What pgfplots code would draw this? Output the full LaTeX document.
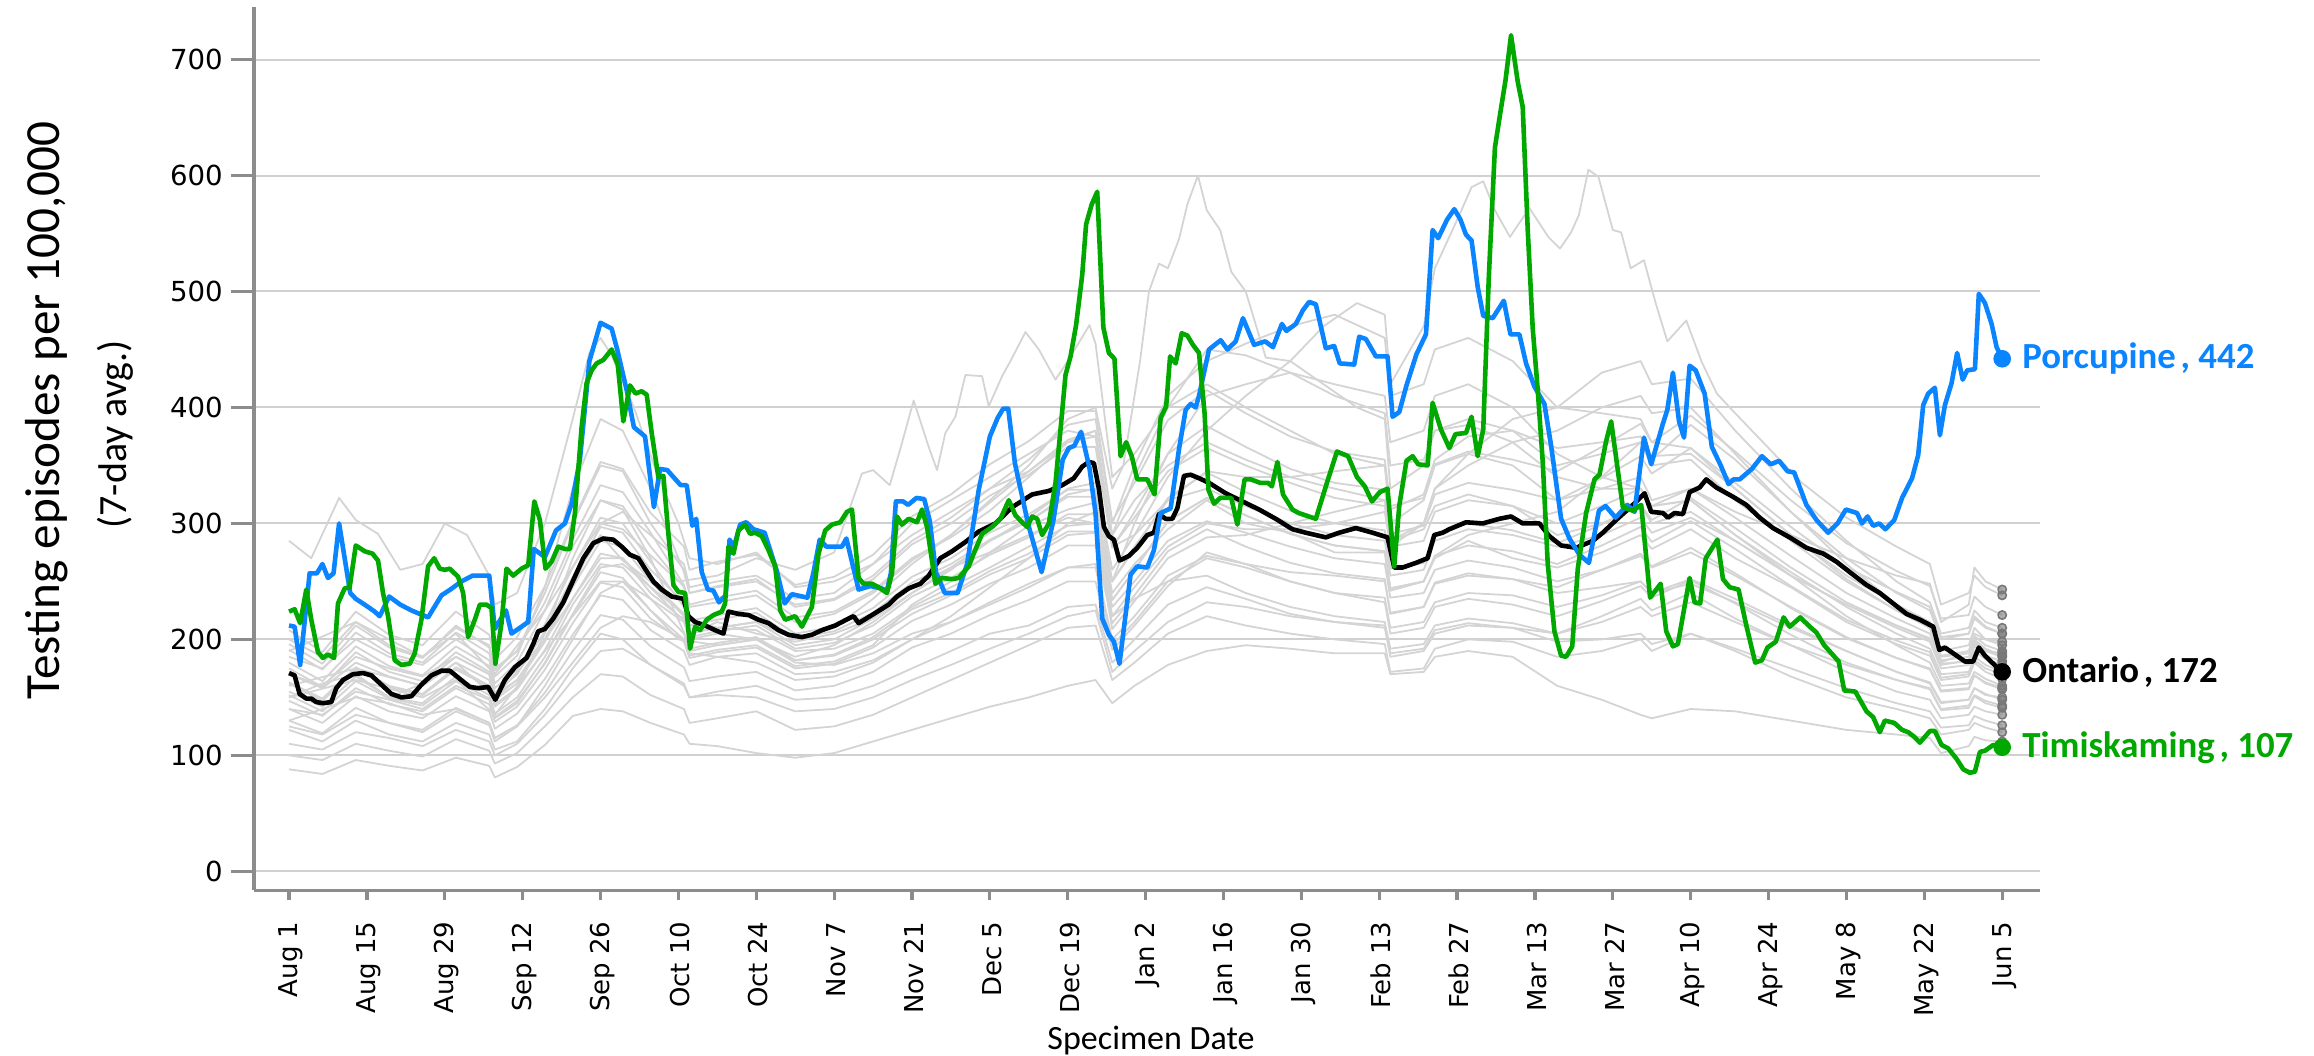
\documentclass[border=0pt]{standalone}
\usepackage{fontspec}
\setmainfont{Carlito}
\newfontfamily\tickfont{DejaVu Sans}
\usepackage{pgfplots}
\usepackage{pgfplotstable}
\pgfplotsset{compat=1.18}
\definecolor{porc}{RGB}{10,132,255}
\definecolor{timi}{RGB}{0,168,0}
\definecolor{phu}{RGB}{212,212,212}
\definecolor{axisgray}{RGB}{140,140,140}
\definecolor{gridgray}{RGB}{208,208,208}
\definecolor{dotgray}{RGB}{120,120,120}

\pgfplotstableread{
d g1 g2 g3 g4 g5 g6 g7 g8 g9 g10 g11 g12 g13 g14 h1 h2 h3 h4 k1 k2 k3 k4 k5 k6
0 88 100 122 130 140 147 152 162 163 175 180 191 196 208 200 155 170 130 125 150 185 110 170 140
6 84 96 112 119 128 134 138 147 149 159 164 174 179 189 185 142 160 140 118 162 175 105 158 135
12 96 110 130 141 151 158 164 174 176 189 194 206 212 224 215 168 185 150 135 170 200 120 180 155
18 91 104 118 128 138 144 149 159 160 172 177 188 193 204 195 150 175 145 128 150 185 115 168 148
24 87 99 112 122 132 138 143 152 153 164 169 180 184 195 185 145 168 135 120 162 178 108 160 140
30 98 114 128 141 151 158 164 174 176 189 194 206 212 224 210 168 185 140 138 185 200 122 180 160
36 91 104 118 128 138 144 149 159 160 172 177 188 193 204 195 152 170 128 126 170 182 112 165 148
37 81 93 105 115 123 129 133 142 144 154 158 168 173 183 175 136 150 115 112 152 162 100 148 132
41 90 102 112 126 136 142 147 157 158 170 174 186 190 202 190 150 165 125 125 165 180 110 162 145
46 109 125 140 154 166 174 179 191 205 207 213 245 232 246 240 185 200 150 160 200 225 135 198 180
51 134 150 175 190 204 214 221 235 270 254 262 330 286 302 300 230 245 180 200 250 280 165 245 222
56 140 170 205 221 238 249 258 274 320 297 305 390 333 353 350 265 300 210 240 290 320 190 285 262
60 138 168 200 217 234 245 253 270 312 292 300 380 327 347 345 262 310 220 250 268 315 192 280 265
65 128 152 178 194 208 218 225 240 270 260 267 330 292 309 300 235 290 215 235 250 280 178 250 245
71 118 140 162 176 190 198 200 217 206 232 228 258 247 280 260 205 265 200 215 222 245 160 220 222
72 110 128 150 164 178 184 186 202 192 216 212 240 230 260 240 190 245 188 200 205 228 150 205 206
77 108 132 155 168 185 189 191 207 197 221 217 246 236 267 245 195 250 185 205 215 232 152 210 210
84 102 138 160 172 188 193 195 212 202 227 223 252 242 273 250 200 255 180 200 205 238 150 215 208
91 98 122 148 156 170 175 177 192 182 205 201 228 219 247 230 182 235 165 180 198 215 138 195 190
98 102 125 150 160 172 179 181 197 187 211 207 234 224 254 235 186 240 168 178 205 222 140 200 192
105 112 135 160 172 182 193 195 212 202 227 223 252 242 273 255 200 265 180 188 218 240 150 218 205
112 122 150 175 193 200 216 230 237 226 254 249 282 270 306 285 222 300 200 205 240 268 165 245 228
119 132 165 190 205 220 230 250 253 240 270 265 300 288 325 305 238 320 215 215 262 290 178 262 245
126 142 180 205 221 245 248 275 273 259 292 286 324 311 351 330 256 340 232 230 275 318 192 285 262
133 150 195 212 234 270 262 290 288 274 308 302 342 340 371 355 270 360 248 245 298 345 205 302 280
140 160 210 228 250 300 281 305 308 293 329 323 366 370 397 385 290 380 262 262 312 372 220 325 298
145 165 212 230 250 310 281 300 308 293 329 323 366 380 397 390 292 375 265 262 318 380 225 330 300
148 145 165 180 191 250 214 220 234 209 250 234 279 290 302 300 220 280 200 195 240 280 172 250 228
152 160 180 200 212 300 238 235 260 233 278 260 310 340 335 350 245 290 220 215 265 305 190 280 250
158 178 205 230 246 360 276 250 302 270 322 302 360 400 389 410 280 320 255 250 295 345 215 320 285
165 190 220 245 275 410 295 255 322 288 344 322 384 450 415 440 300 330 272 270 320 365 232 345 302
172 195 212 235 265 420 280 240 307 290 327 307 366 445 395 455 295 315 265 262 300 350 228 340 292
180 192 205 222 250 430 266 228 291 300 311 291 347 430 375 470 295 300 258 250 292 335 220 340 280
188 188 200 215 240 420 257 220 281 310 300 281 335 410 362 480 300 290 255 240 275 322 215 345 270
197 188 196 210 232 410 252 215 276 320 294 276 329 395 355 460 310 285 250 236 275 315 212 350 265
198 170 172 185 205 370 223 192 244 285 261 244 291 350 315 410 280 255 222 210 242 280 188 312 236
204 172 175 190 210 380 228 196 250 300 266 250 298 355 322 420 300 260 228 215 250 285 192 325 240
206 185 192 205 228 410 249 212 272 330 291 272 325 380 351 450 330 285 248 232 270 310 208 355 260
212 190 200 212 235 420 257 218 281 350 300 290 335 385 362 460 360 295 255 240 285 320 214 375 268
220 185 198 210 230 400 252 214 276 370 294 300 329 370 355 440 390 290 252 238 270 315 210 380 262
228 160 185 205 220 360 245 205 265 380 283 310 320 340 345 400 400 280 240 228 262 300 198 365 250
236 148 190 220 233 340 260 215 281 400 299 340 339 330 366 395 430 290 245 238 275 315 200 370 260
243 135 200 235 246 330 274 228 297 410 316 370 358 330 386 390 440 305 250 250 290 330 205 375 272
245 132 190 225 236 315 263 220 284 395 303 355 343 315 370 370 420 292 240 240 278 315 196 358 262
252 140 205 240 251 320 279 232 302 400 322 385 365 320 393 365 425 305 248 252 295 330 205 360 275
260 138 190 218 231 290 257 215 278 360 296 355 335 290 362 330 380 285 232 235 270 305 192 330 255
270 130 168 195 204 255 227 195 246 310 262 310 297 258 320 290 330 255 210 212 245 272 175 290 228
280 122 150 172 180 220 201 178 217 270 232 265 262 228 283 255 285 230 190 190 215 240 158 252 202
289 118 140 155 165 195 184 165 199 240 212 230 241 205 259 230 250 210 172 172 196 218 145 225 184
295 115 132 148 157 180 174 158 189 225 201 210 228 192 246 215 232 198 162 163 186 205 138 210 175
297 102 118 132 139 160 155 140 167 200 179 185 202 170 218 190 205 175 145 146 165 182 124 186 156
302 108 122 135 141 162 157 143 170 205 181 188 205 172 221 195 210 178 148 148 168 185 126 190 158
303 116 128 142 151 172 169 152 182 218 194 200 220 185 237 210 225 190 158 158 180 198 134 203 169
305 113 124 138 145 166 162 147 175 210 186 192 211 178 228 200 215 183 152 153 172 190 130 195 163
308 112 120 135 141 160 157 143 170 205 181 186 205 172 221 198 210 178 150 148 166 185 126 190 158
}\grays

\begin{document}
\begin{tikzpicture}
\useasboundingbox (-63.5pt,-41.25pt) rectangle (515pt,222.6pt);
\begin{axis}[
  at={(0pt,0pt)}, anchor=south west,
  scale only axis, width=446.5pt, height=220.75pt,
  xmin=-6.3, xmax=314.8, ymin=-16.4, ymax=745,
  axis x line=bottom, axis y line=left,
  axis line style={draw=axisgray, line width=0.9pt, -},
  tick align=outside,
  x tick style={draw=axisgray, line width=0.8pt, /pgfplots/major tick length=2.5pt},
  y tick style={draw=axisgray, line width=0.8pt, /pgfplots/major tick length=5.75pt},
  xtick={0,14,...,308},
  xticklabels={Aug 1,Aug 15,Aug 29,Sep 12,Sep 26,Oct 10,Oct 24,Nov 7,Nov 21,Dec 5,Dec 19,Jan 2,Jan 16,Jan 30,Feb 13,Feb 27,Mar 13,Mar 27,Apr 10,Apr 24,May 8,May 22,Jun 5},
  xticklabel style={rotate=90, anchor=east, font=\tickfont\fontsize{6.5}{8}\selectfont, yshift=-0.5pt},
  ytick={0,100,...,700},
  yticklabel style={font=\tickfont\fontsize{6.9}{8}\selectfont},
  /pgf/number format/assume math mode=true,
  ymajorgrids, grid style={draw=gridgray, line width=0.5pt},
  clip=false,
  every axis plot/.append style={line join=round},
]
\pgfplotsinvokeforeach{g1,g2,g3,g4,g5,g6,g7,g8,g9,g10,g11,g12,g13,g14,h1,h2,h3,h4,k1,k2,k3,k4,k5,k6}{
  \addplot[phu, line width=0.45pt] table[x=d, y=#1]{\grays};
}
% special gray lines
\addplot[phu, line width=0.45pt] coordinates {(0,160) (12,175) (24,160) (30,180) (37,150) (46,200) (56,270) (60,270) (70,220) (77,210) (84,215) (91,200) (98,210) (105,235) (112,265) (119,290) (126,320) (133,350) (140,390) (145,400) (148,330) (150,350) (153,440) (154.6,500) (156.4,524) (158,520) (160,545) (161.5,575) (163.4,600) (165,570) (167.4,553) (169.4,517) (172,500) (175.6,443) (180,440) (186,420) (192,400) (197,390) (198,330) (204,350) (206,380) (212,390) (220,380) (228,350) (236,360) (243,370) (245,350) (252,355) (260,320) (270,285) (280,250) (289,225) (295,210) (297,180) (302,190) (303,205) (305,200) (308,195)};
\addplot[phu, line width=0.45pt] coordinates {(0,150) (12,165) (24,150) (30,165) (37,135) (46,190) (56,250) (60,250) (70,200) (77,195) (84,200) (91,185) (98,195) (105,215) (112,240) (119,260) (126,285) (133,305) (140,330) (145,335) (148,260) (152,290) (158,340) (165,380) (172,410) (180,440) (186,470) (192,490) (197,480) (198,420) (204,470) (206,520) (210.6,568) (212.6,590) (214.7,595) (216.8,570) (219.5,547) (223,572) (226.4,547) (228.5,537) (230.5,551) (231.9,566) (233.6,605) (235.4,599) (238,553) (239.5,551) (241.2,520) (243.6,527) (245.7,490) (247.8,457) (251.2,475) (254,439) (256.7,412) (260,395) (266,365) (272,335) (280,305) (289,280) (295,265) (297,230) (302,240) (303,255) (305,245) (308,238)};
\addplot[phu, line width=0.45pt] coordinates {(0,285) (4,270) (9,322) (12,303) (16,291) (20,260) (24,265) (28,300) (32,290) (36,255) (37,230) (41,240) (46,300) (51,390) (54,447) (56,460) (58,445) (62,400) (66,345) (70,300) (72,270) (77,265) (84,275) (91,245) (98,250) (105,265) (112,290) (119,310) (126,330) (133,345) (140,370) (145,375) (148,290) (152,320) (158,350) (165,370) (172,355) (180,340) (188,330) (197,320) (198,285) (204,295) (206,315) (212,325) (220,315) (228,290) (236,300) (243,315) (245,300) (252,310) (260,285) (270,255) (280,230) (289,212) (295,200) (297,178) (302,182) (303,196) (305,190) (308,188)};
\addplot[phu, line width=0.45pt] coordinates {(0,190) (12,215) (24,185) (30,205) (37,170) (46,225) (56,300) (60,295) (70,250) (77,255) (84,270) (91,260) (98,275) (103,343) (105,346) (108,333) (110,366) (112.3,406) (115,366) (116.5,346) (118,378) (119.8,392) (121.6,428) (124.6,427) (125.8,401) (128.2,427) (129.7,440) (132.4,465) (134.8,450) (137.8,424) (140,440) (143.9,471) (145,455) (148,340) (152,360) (158,400) (165,420) (172,400) (180,380) (188,360) (197,350) (198,300) (204,320) (206,350) (212,360) (220,350) (228,320) (236,330) (243,340) (245,320) (252,330) (260,310) (270,290) (280,270) (289,255) (295,248) (297,215) (302,230) (303,262) (305,250) (308,243)};
% gray end dots
\addplot[only marks, color=dotgray, mark=*, mark size=1.05pt, mark options={draw=none, fill=dotgray, fill opacity=0.6}] coordinates {(308,112) (308,120) (308,135) (308,141) (308,160) (308,157) (308,143) (308,170) (308,205) (308,181) (308,186) (308,205) (308,172) (308,221) (308,198) (308,210) (308,178) (308,150) (308,148) (308,166) (308,185) (308,126) (308,190) (308,158) (308,195) (308,238) (308,188) (308,243)};
% Ontario
\addplot[black, line width=1.15pt] coordinates {(0,171) (1,169) (1.9,153) (3.1,149) (4,149) (4.9,146) (6.1,145) (7.6,146) (8.5,158) (9.7,165) (11.5,170) (13.3,171) (14.8,169) (16.6,161) (18.4,153) (20.2,150) (22,151) (23.8,161) (25.6,169) (27.4,173) (28.9,173) (30.7,166) (32.5,159) (34,158) (35.8,159) (37.1,148) (38.8,165) (40.6,176) (42.7,184) (43.9,196) (44.8,207) (46,209) (47.5,218) (49.3,232) (51.1,251) (52.9,270) (54.7,283) (56.5,287) (58.3,286) (59.8,280) (61.3,273) (62.8,270) (64,261) (65.5,250) (67,243) (68.8,237) (70.9,235) (71.8,220) (73,215) (74.8,212) (76.6,208) (78.1,205) (79,224) (80.8,222) (82.6,221) (84.4,217) (86.2,214) (88,208) (89.8,204) (92.2,202) (94,204) (95.8,208) (98.2,212) (100.6,218) (101.5,220) (102.4,214) (104.8,221) (107.8,230) (109.3,237) (111.4,244) (113.5,248) (115,255) (117.1,270) (119.2,276) (121.6,284) (124,293) (127,300) (130,314) (133.6,325) (136.6,328) (139,333) (141.1,339) (142.6,349) (143.8,353) (144.7,352) (145.6,330) (146.5,297) (147.4,289) (148.3,286) (149.3,268) (151,272) (152.5,279) (154.3,290) (155.5,292) (156.4,308) (157.6,304) (158.8,304) (159.7,313) (160.9,341) (162.1,342) (163.6,339) (165.4,335) (168.4,326) (171.4,319) (174.4,312) (177.4,304) (180.4,295) (182.8,292) (186.4,288) (188.8,292) (191.8,296) (194.8,292) (197.5,288) (198.7,262) (200.2,262) (202.6,266) (204.7,270) (205.9,290) (207.4,292) (208.6,295) (211.6,301) (214.6,300) (217.6,304) (219.7,306) (221.8,300) (224.8,300) (226.6,289) (228.7,281) (231.4,279) (234.4,285) (236.2,292) (238.6,303) (241.6,316) (243.7,326) (244.9,310) (247,309) (247.9,305) (249.1,309) (250.6,308) (251.8,327) (253.6,331) (254.8,338) (256.6,331) (259.6,323) (262,316) (264.4,305) (266.8,296) (269.8,288) (272.8,279) (275.8,274) (278.2,267) (280.6,258) (283.6,247) (286,240) (288.4,231) (290.8,222) (293.2,217) (295.6,211) (296.7,191) (297.7,193) (299.8,186) (301.3,181) (302.8,181) (303.8,193) (304.9,186) (306.4,179) (308,172)};
% Porcupine
\addplot[porc, line width=1.15pt] coordinates {(0,212) (1,211) (2,178) (3.7,257) (5,257) (6,265) (7,253) (8,257) (9,300) (11,240) (12,235) (13.6,230) (15.4,224) (16.3,220) (18,237) (20,230) (22,225) (25,219) (27.4,238) (29,243) (31,250) (33,255) (36,255) (37,209) (39,225) (40,205) (43,215) (44,278) (46,271) (48,294) (49.6,300) (50.8,317) (52.3,355) (54,440) (56,473) (58,468) (59,450) (60.7,415) (62,383) (64,375) (65.6,314) (66.7,347) (68,346) (70.4,333) (71.5,333) (72.5,298) (73.2,304) (74.2,258) (75.3,243) (76.3,242) (77.3,232) (78.5,238) (79.2,286) (80,280) (81.1,299) (82.2,301) (83.5,295) (85.5,292) (87.7,259) (89.1,231) (90.4,239) (93.2,236) (94.3,258) (95.4,286) (96.6,280) (99.4,280) (100.2,287) (101.2,267) (102.4,243) (104.5,246) (106.5,244) (107.5,242) (108.2,257) (109.1,319) (110.4,319) (111.3,316) (112.8,322) (114.2,321) (115.2,302) (116.3,258) (117.9,240) (120.2,240) (121.9,265) (124,329) (126,375) (127.4,391) (128.4,399) (129.3,399) (130.5,352) (132.9,299) (135.3,258) (137.4,302) (139.1,355) (140.2,365) (141.2,367) (142.4,379) (143.9,348) (145,309) (146.2,218) (147.4,204) (148.3,198) (149.3,179) (151.3,256) (152.5,263) (154.3,262) (155.5,277) (156.7,309) (158.5,313) (160,364) (161.2,398) (162.1,403) (163,400) (163.6,410) (165.4,450) (167.5,458) (168.7,450) (170.2,457) (171.5,477) (173.5,454) (175.5,457) (176.9,452) (178.5,472) (179.3,466) (181,472) (182.3,484) (183.4,491) (184.6,489) (186.4,451) (187.9,453) (188.9,438) (191.5,437) (192.4,461) (193.6,459) (195.4,444) (197.5,444) (198.4,392) (199.6,396) (200.9,419) (202.7,446) (204.4,463) (205.6,553) (206.6,546) (208.2,562) (209.5,571) (210.6,562) (211.6,549) (212.6,544) (213.7,504) (214.7,479) (216.4,477) (218.4,492) (219.6,463) (221.2,463) (222.4,438) (223.9,418) (225.7,403) (226.9,367) (228.7,304) (230.2,287) (232,273) (233.7,266) (235.5,311) (236.7,315) (238.5,305) (240.6,316) (241.9,310) (243.6,374) (244.9,351) (247,386) (247.8,398) (248.8,430) (249.9,388) (250.8,374) (251.8,436) (252.9,432) (254.5,412) (255.8,366) (257.4,350) (258.8,334) (259.7,338) (260.8,338) (263,347) (264.8,358) (266.4,351) (267.9,354) (269.4,345) (270.6,344) (272.8,316) (274.6,303) (276.7,292) (278.4,300) (279.9,312) (281.9,309) (282.8,300) (283.8,306) (284.8,298) (285.9,300) (287,295) (288.6,303) (290,322) (291.8,339) (292.9,359) (293.8,402) (294.7,412) (295.9,417) (296.8,376) (297.7,402) (298.9,421) (299.9,447) (300.9,424) (301.7,432) (303.1,433) (303.8,498) (304.9,490) (306.1,472) (307,452) (308,442)};
% Timiskaming
\addplot[timi, line width=1.15pt] coordinates {(0,224) (1,226) (2,214) (3.1,243) (4,217) (5.2,189) (6.1,184) (7,187) (8.1,184) (8.8,231) (10,244) (10.9,245) (12,281) (13.6,276) (15,274) (16,268) (16.9,240) (17.8,220) (19,182) (20.2,178) (21.7,179) (22.6,188) (23.8,217) (25,263) (26.1,270) (27.1,261) (28,260) (28.9,261) (30.4,254) (31.3,240) (32.2,202) (33.4,217) (34.3,230) (35.5,230) (36.4,227) (37.1,179) (38.2,214) (39.1,261) (40.3,255) (41.8,261) (43,264) (44.1,319) (45.1,303) (46.1,261) (47.2,267) (48.4,280) (49.6,278) (50.5,278) (51.4,309) (52.6,383) (53.5,421) (54.4,432) (55.3,438) (56.5,441) (58,450) (59.1,437) (60.1,388) (61.3,419) (62.3,412) (63.4,414) (64.3,411) (65.2,378) (66.4,340) (67.3,341) (68.2,291) (69.1,247) (70,241) (71.2,240) (72.1,192) (73,211) (73.9,208) (75.1,217) (76.3,221) (77.8,224) (78.4,231) (79,280) (79.9,274) (80.8,294) (82,299) (82.9,291) (83.8,292) (85,289) (86.2,277) (87.4,263) (88.3,225) (89.2,217) (91,220) (92.2,211) (94,228) (95.2,274) (96.4,294) (97.6,299) (99.1,301) (100.3,310) (101.2,312) (102.4,253) (103.3,248) (104.8,248) (106,245) (107.5,240) (108.4,257) (109.3,306) (110.2,299) (111.4,304) (112.9,301) (113.8,312) (114.7,297) (116.2,248) (117.4,253) (119.2,252) (120.4,253) (122.2,263) (123.1,274) (124.6,291) (126.4,297) (127.9,304) (129.4,320) (130.6,307) (131.8,301) (132.7,297) (133.6,306) (134.5,304) (135.4,290) (136.6,300) (137.8,335) (138.7,381) (139.6,428) (140.5,444) (141.5,471) (142.6,514) (143.3,558) (144.3,575) (145.3,586) (146.4,469) (147.4,447) (148.4,442) (149.5,358) (150.5,370) (151.5,358) (152.5,338) (154.3,338) (155.6,325) (156.7,391) (157.7,401) (158.4,444) (159.4,438) (160.5,464) (161.5,462) (162.5,454) (163.6,447) (164.6,395) (165.3,329) (166.3,317) (167.4,322) (169.4,322) (170.5,299) (171.8,338) (172.9,338) (174.6,335) (176,335) (176.7,332) (177.7,353) (178.7,325) (180.4,312) (181.5,309) (184.6,304) (186.6,335) (188.4,362) (190.4,358) (192,340) (193.4,332) (194.7,319) (196.1,327) (197.5,330) (198.7,263) (199.6,315) (200.9,354) (202,358) (203,351) (204.7,350) (205.6,404) (207.1,381) (208.6,365) (209.7,377) (211.6,378) (212.6,392) (213.7,358) (214.7,381) (215.7,512) (216.8,624) (217.8,655) (218.7,682) (219.7,721) (220.9,681) (221.8,659) (222.7,553) (223.6,468) (224.5,415) (225.4,353) (226.3,265) (227.5,207) (228.7,186) (229.6,185) (230.7,194) (231.7,261) (233.2,309) (234.7,338) (235.6,342) (236.8,371) (237.7,388) (239.8,314) (241.6,311) (243.1,316) (244.7,236) (246.6,248) (247.6,207) (248.8,194) (249.7,196) (251.8,253) (252.7,232) (253.7,231) (254.7,270) (256.8,286) (257.8,252) (259,245) (260.6,243) (262,212) (263.6,180) (264.8,182) (265.8,193) (267.3,198) (268.7,219) (269.8,211) (271.7,219) (273.4,211) (274.6,206) (276,195) (277.3,188) (278.6,181) (279.6,156) (281.6,155) (283.6,138) (284.8,133) (286,120) (286.9,130) (288.6,128) (290,122) (291.1,120) (292.2,116) (293.2,111) (295,121) (295.9,121) (297.1,109) (298.3,106) (299.8,97) (301,88) (302.2,85) (303.1,86) (304,103) (304.9,104) (306.4,109) (308,107)};
% end dots
\addplot[only marks, mark=*, mark size=2pt, porc] coordinates {(308,442)};
\addplot[only marks, mark=*, mark size=2pt, black] coordinates {(308,172)};
\addplot[only marks, mark=*, mark size=2pt, timi] coordinates {(308,107)};
\node[anchor=west, xshift=1.5pt, text=porc, font=\fontsize{9.2}{11}\selectfont\bfseries] at (axis cs:308,442) {Porcupine\kern1.2pt, 442};
\node[anchor=west, xshift=1.5pt, text=black, font=\fontsize{9.2}{11}\selectfont\bfseries] at (axis cs:308,172) {Ontario\kern1.2pt, 172};
\node[anchor=west, xshift=1.5pt, text=timi, font=\fontsize{9.2}{11}\selectfont\bfseries] at (axis cs:308,107) {Timiskaming\kern1.2pt, 107};
\end{axis}
\node[rotate=90, font=\fontsize{12.3}{14}\selectfont] at (-51.9pt,120pt) {Testing episodes per 100,000};
\node[rotate=90, font=\fontsize{10}{12}\selectfont] at (-34.75pt,114pt) {(7-day avg.)};
\node[font=\fontsize{8.5}{10}\selectfont] at (224.25pt,-37.6pt) {Specimen Date};
\end{tikzpicture}
\end{document}
